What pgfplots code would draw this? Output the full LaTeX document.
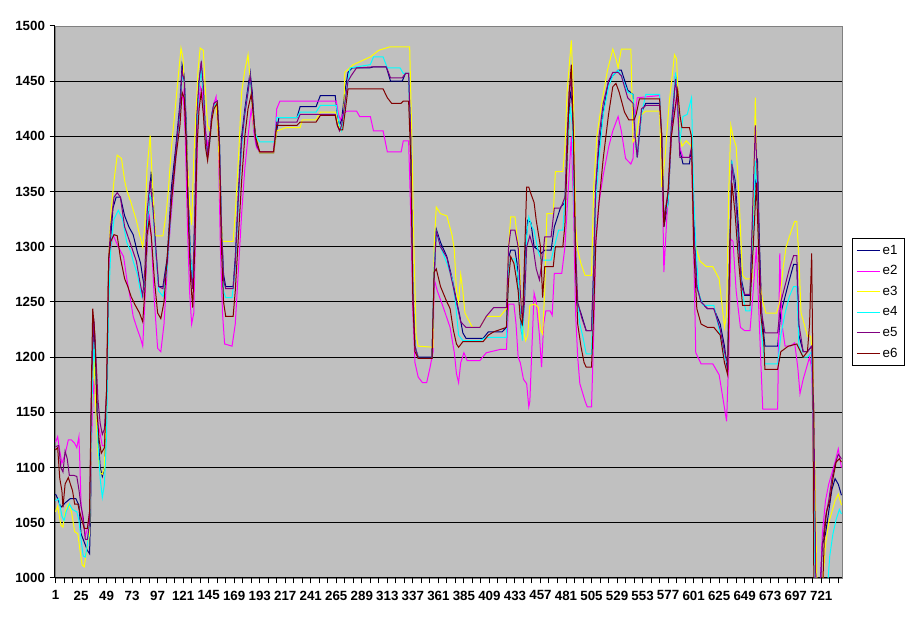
\documentclass[border=0pt]{standalone}
\usepackage{pgfplots}
\pgfplotsset{compat=1.18}
\usepackage{fontspec}
\setmainfont{Liberation Sans}
\definecolor{plotgray}{RGB}{192,192,192}
\definecolor{cE1}{RGB}{0,0,128}
\definecolor{cE2}{RGB}{255,0,255}
\definecolor{cE3}{RGB}{255,255,0}
\definecolor{cE4}{RGB}{0,255,255}
\definecolor{cE5}{RGB}{128,0,128}
\definecolor{cE6}{RGB}{128,0,0}
\begin{document}
\begin{tikzpicture}
\begin{axis}[
scale only axis,width=590.25pt,height=414pt,
xmin=0.5,xmax=740.5,ymin=1000,ymax=1500,
axis background/.style={fill=plotgray,draw=gray},
axis x line*=bottom,axis y line*=left,
axis line style={black,line width=0.75pt,-},
xtick={1,25,...,721},minor xtick={9,17,...,737},
ytick={1000,1050,...,1500},
extra y ticks={1050,1100,...,1450},extra y tick labels={},
extra y tick style={grid=major,major tick length=0pt},
grid style={black,line width=0.75pt},
tick align=outside,major tick length=4pt,minor tick length=4pt,
tick style={black,line width=0.75pt},
tick label style={font=\fontsize{10}{12}\selectfont\bfseries},
xticklabel style={yshift=-2pt},
/pgf/number format/assume math mode=true,/pgf/number format/1000 sep={},
legend style={at={(1.0127,0.5)},anchor=west,draw=black,fill=white,
  font=\fontsize{10}{12}\selectfont,row sep=3pt,inner sep=3pt},
legend cell align=left,
every axis plot/.append style={line width=0.75pt,mark=none},
]
% e1
\addplot[cE1] coordinates {
(1,1076)(3,1072)(6,1064)(10,1068)(15,1072)(20,1072)(23,1066)(25,1040)(27,1035)(29,1030)(31,1025)(33,1022)
(34,1060)(35,1180)(37,1232)(39,1190)(41,1130)(43,1100)(45,1092)(47,1100)(49,1160)(51,1280)(53,1310)(55,1335)
(58,1345)(62,1345)(66,1328)(70,1318)(74,1311)(78,1295)(81,1285)(83,1272)(85,1262)(87,1300)(89,1345)(91,1368)
(93,1340)(95,1300)(98,1264)(102,1264)(106,1290)(110,1354)(114,1390)(118,1430)(120,1465)(122,1455)(124,1410)
(126,1340)(128,1290)(130,1265)(132,1330)(134,1420)(136,1450)(138,1465)(140,1440)(142,1400)(144,1385)(146,1400)
(148,1420)(150,1430)(153,1432)(155,1400)(157,1320)(159,1275)(161,1264)(165,1264)(168,1264)(170,1290)(173,1350)
(176,1400)(179,1425)(182,1445)(184,1458)(186,1440)(188,1410)(190,1395)(193,1385)(206,1385)(209,1405)(211,1417)
(228,1417)(231,1427)(246,1427)(250,1437)(264,1437)(266,1420)(268,1410)(270,1415)(273,1440)(276,1458)(280,1462)
(296,1462)(300,1463)(312,1463)(316,1450)(327,1450)(330,1457)(333,1457)(335,1400)(337,1260)(339,1210)(342,1200)
(355,1200)(357,1270)(359,1316)(363,1304)(369,1291)(374,1271)(378,1251)(381,1238)(384,1222)(387,1217)(403,1217)
(408,1223)(421,1223)(425,1227)(427,1290)(429,1297)(433,1297)(435,1285)(437,1250)(439,1225)(441,1240)(443,1300)
(445,1324)(448,1322)(451,1300)(455,1297)(458,1294)(461,1297)(467,1297)(470,1318)(476,1336)(480,1340)(483,1400)
(485,1440)(487,1430)(489,1340)(491,1250)(495,1240)(500,1224)(505,1224)(507,1280)(509,1354)(512,1390)(516,1422)
(521,1450)(525,1455)(530,1460)(533,1460)(539,1442)(544,1438)(546,1400)(548,1381)(552,1422)(556,1430)(569,1430)
(571,1400)(573,1318)(577,1340)(580,1400)(584,1455)(586,1440)(588,1388)(591,1375)(597,1375)(599,1388)(601,1330)
(604,1264)(608,1250)(614,1244)(620,1244)(626,1230)(630,1210)(633,1187)(635,1300)(637,1375)(640,1360)(643,1320)
(646,1270)(649,1256)(654,1256)(657,1330)(659,1358)(661,1380)(663,1300)(665,1240)(668,1210)(680,1210)(683,1240)
(687,1255)(691,1270)(695,1284)(698,1284)(700,1220)(704,1205)(708,1205)(712,1210)(714,1150)(716,990)(720,990)
(722,1030)(725,1040)(728,1060)(731,1080)(734,1090)(737,1085)(740,1075)};
\addlegendentry{e1}
% e2
\addplot[cE2] coordinates {
(1,1123)(3,1128)(5,1115)(7,1104)(10,1112)(13,1125)(16,1125)(19,1122)(21,1118)(23,1128)(24,1100)(25,1067)
(27,1050)(29,1038)(31,1045)(33,1060)(35,1130)(37,1180)(39,1160)(41,1140)(43,1130)(45,1120)(47,1120)(49,1160)
(51,1280)(53,1300)(55,1311)(60,1300)(65,1291)(68,1271)(71,1255)(74,1237)(78,1225)(81,1217)(83,1210)(85,1250)
(87,1300)(89,1330)(91,1310)(94,1250)(97,1208)(100,1205)(103,1230)(106,1280)(109,1320)(112,1355)(116,1400)
(119,1430)(121,1440)(123,1400)(125,1320)(127,1260)(129,1230)(131,1240)(133,1330)(135,1420)(137,1445)(139,1440)
(141,1410)(143,1400)(145,1385)(147,1410)(150,1430)(152,1436)(154,1400)(156,1300)(158,1240)(160,1212)(167,1210)
(170,1230)(173,1280)(176,1330)(179,1371)(182,1400)(185,1425)(188,1400)(190,1390)(193,1386)(206,1386)(208,1410)
(209,1425)(212,1432)(265,1432)(267,1420)(269,1415)(271,1420)(275,1423)(284,1423)(287,1418)(297,1418)(300,1405)
(309,1405)(313,1386)(326,1386)(328,1396)(333,1396)(335,1330)(337,1240)(339,1195)(342,1182)(346,1177)(350,1177)
(353,1190)(356,1205)(357,1271)(360,1260)(366,1244)(372,1227)(376,1204)(378,1185)(380,1177)(382,1195)(385,1204)
(388,1197)(400,1197)(406,1204)(419,1207)(425,1207)(427,1248)(432,1248)(434,1230)(436,1200)(438,1195)(441,1180)
(444,1176)(446,1155)(447,1160)(449,1210)(451,1258)(453,1250)(456,1220)(458,1191)(460,1230)(462,1242)(466,1242)
(468,1238)(470,1276)(477,1276)(480,1300)(483,1350)(486,1400)(488,1340)(490,1240)(492,1200)(494,1176)(499,1160)
(501,1155)(505,1155)(507,1220)(509,1304)(512,1340)(516,1365)(521,1390)(525,1405)(530,1418)(533,1405)(537,1380)
(542,1375)(544,1380)(546,1420)(548,1435)(569,1437)(571,1400)(573,1277)(576,1330)(580,1400)(585,1437)(588,1390)
(591,1381)(599,1381)(601,1300)(603,1204)(608,1194)(619,1194)(625,1184)(629,1160)(632,1142)(634,1200)(636,1307)
(638,1305)(641,1260)(645,1227)(649,1224)(654,1224)(657,1260)(660,1300)(662,1250)(664,1200)(666,1153)(680,1153)
(682,1294)(684,1230)(687,1210)(692,1210)(696,1213)(699,1190)(701,1167)(704,1180)(707,1190)(710,1200)(712,1190)
(714,1100)(716,990)(720,990)(722,1040)(725,1070)(728,1085)(731,1095)(734,1105)(737,1117)(740,1100)};
\addlegendentry{e2}
% e3
\addplot[cE3] coordinates {
(1,1060)(3,1065)(6,1048)(8,1046)(10,1060)(13,1067)(16,1060)(19,1042)(22,1040)(24,1025)(26,1012)(28,1010)
(31,1030)(33,1040)(35,1150)(37,1207)(39,1150)(41,1110)(43,1095)(45,1094)(47,1100)(49,1170)(51,1290)(53,1330)
(56,1360)(59,1383)(63,1380)(66,1360)(68,1351)(72,1340)(77,1324)(80,1311)(83,1300)(85,1320)(87,1370)(90,1401)
(92,1360)(95,1310)(102,1310)(105,1330)(107,1350)(110,1390)(113,1420)(116,1450)(119,1480)(121,1470)(123,1420)
(125,1380)(127,1340)(129,1320)(131,1380)(133,1420)(135,1460)(137,1480)(140,1478)(142,1440)(144,1410)(146,1405)
(148,1415)(150,1425)(152,1430)(154,1400)(156,1340)(158,1305)(168,1305)(170,1330)(173,1380)(176,1440)(179,1460)
(182,1474)(185,1440)(187,1410)(190,1398)(193,1385)(206,1385)(209,1405)(218,1408)(231,1408)(233,1415)(246,1415)
(250,1422)(264,1422)(267,1410)(270,1405)(272,1420)(273,1458)(281,1465)(297,1472)(305,1478)(315,1481)(334,1481)
(336,1400)(338,1300)(340,1220)(342,1210)(356,1209)(357,1300)(359,1336)(363,1330)(369,1328)(374,1310)(376,1297)
(378,1260)(380,1250)(382,1275)(384,1260)(386,1240)(393,1227)(400,1227)(406,1237)(419,1237)(425,1244)(427,1300)
(429,1327)(433,1327)(435,1310)(437,1297)(439,1240)(441,1224)(443,1215)(445,1220)(447,1247)(452,1248)(455,1245)
(457,1225)(459,1221)(461,1260)(463,1330)(469,1330)(471,1368)(478,1368)(480,1390)(482,1440)(486,1487)(488,1440)
(490,1320)(492,1297)(495,1285)(499,1274)(505,1274)(507,1354)(510,1400)(513,1420)(516,1438)(520,1460)(525,1479)
(528,1470)(530,1462)(533,1479)(542,1479)(544,1395)(547,1400)(550,1418)(556,1423)(569,1423)(571,1354)(574,1380)
(578,1430)(583,1474)(585,1470)(588,1400)(590,1391)(594,1396)(599,1391)(601,1304)(603,1300)(607,1287)(613,1282)
(619,1282)(625,1271)(630,1227)(632,1240)(634,1350)(636,1410)(638,1400)(641,1391)(644,1338)(647,1274)(650,1271)
(656,1271)(659,1435)(661,1340)(663,1271)(666,1250)(669,1240)(679,1240)(682,1250)(685,1280)(688,1300)(693,1315)
(696,1323)(698,1323)(700,1290)(702,1240)(705,1230)(708,1219)(711,1219)(713,1200)(715,1100)(717,990)(722,990)
(725,1030)(728,1050)(731,1060)(734,1070)(737,1076)(740,1066)};
\addlegendentry{e3}
% e4
\addplot[cE4] coordinates {
(1,1070)(4,1072)(7,1056)(9,1052)(11,1060)(14,1067)(17,1062)(21,1060)(23,1052)(25,1035)(27,1020)(29,1019)
(31,1030)(33,1050)(35,1150)(37,1214)(39,1180)(41,1120)(43,1090)(45,1073)(47,1085)(49,1130)(51,1250)(53,1300)
(56,1325)(60,1333)(64,1325)(68,1304)(72,1295)(74,1287)(78,1275)(80,1264)(82,1255)(85,1265)(87,1310)(89,1348)
(92,1340)(95,1300)(98,1260)(102,1255)(106,1280)(110,1340)(114,1380)(118,1420)(120,1455)(122,1450)(124,1400)
(126,1330)(128,1290)(130,1270)(132,1320)(134,1410)(136,1445)(138,1460)(140,1440)(142,1400)(144,1383)(146,1395)
(148,1420)(150,1428)(153,1430)(155,1400)(157,1320)(159,1260)(161,1254)(167,1254)(170,1280)(173,1340)(176,1390)
(179,1420)(182,1440)(184,1453)(186,1430)(188,1405)(190,1400)(193,1395)(207,1395)(209,1417)(228,1417)(231,1422)
(246,1422)(250,1428)(265,1428)(268,1410)(270,1405)(273,1430)(278,1462)(297,1465)(300,1472)(309,1472)(313,1462)
(325,1462)(328,1457)(333,1457)(335,1390)(337,1260)(339,1210)(342,1199)(355,1199)(357,1280)(359,1314)(363,1300)
(369,1285)(374,1271)(377,1250)(380,1220)(384,1215)(400,1215)(406,1218)(419,1218)(425,1218)(427,1280)(429,1289)
(433,1289)(436,1272)(438,1240)(440,1215)(442,1250)(444,1310)(446,1327)(449,1318)(451,1315)(455,1295)(458,1288)
(467,1288)(470,1300)(474,1315)(478,1315)(481,1360)(483,1400)(485,1427)(487,1410)(489,1320)(491,1260)(494,1230)
(497,1218)(500,1203)(505,1203)(507,1280)(509,1340)(512,1380)(516,1420)(521,1445)(525,1455)(530,1460)(533,1455)
(539,1440)(544,1438)(546,1400)(548,1381)(552,1420)(556,1438)(569,1438)(571,1400)(573,1325)(577,1340)(580,1410)
(584,1458)(586,1430)(588,1395)(591,1418)(595,1420)(599,1435)(601,1350)(603,1301)(606,1257)(610,1247)(620,1247)
(626,1220)(630,1200)(633,1194)(635,1300)(637,1378)(640,1350)(643,1300)(647,1257)(650,1242)(654,1242)(657,1310)
(659,1378)(661,1340)(663,1280)(665,1220)(668,1194)(680,1194)(683,1220)(687,1240)(691,1255)(695,1264)(698,1264)
(700,1210)(704,1200)(708,1200)(712,1205)(714,1116)(715,1000)(717,980)(726,980)(729,1020)(732,1040)(735,1053)
(738,1062)(740,1058)};
\addlegendentry{e4}
% e5
\addplot[cE5] coordinates {
(1,1119)(4,1120)(6,1100)(8,1096)(10,1115)(12,1108)(14,1093)(18,1093)(21,1092)(23,1080)(25,1065)(27,1055)
(29,1035)(31,1035)(33,1050)(35,1180)(37,1235)(39,1200)(41,1160)(43,1140)(45,1130)(47,1135)(49,1170)(51,1290)
(53,1320)(56,1345)(59,1349)(62,1345)(66,1318)(71,1304)(77,1287)(80,1270)(83,1255)(85,1280)(87,1330)(90,1360)
(93,1330)(96,1290)(98,1264)(102,1262)(106,1285)(110,1345)(114,1385)(118,1425)(120,1460)(122,1450)(124,1400)
(126,1330)(128,1280)(130,1262)(132,1330)(134,1420)(136,1450)(138,1468)(140,1445)(142,1405)(144,1382)(146,1400)
(148,1420)(150,1430)(153,1432)(155,1400)(157,1320)(159,1270)(161,1262)(168,1262)(170,1285)(173,1345)(176,1395)
(179,1420)(182,1440)(184,1455)(186,1435)(188,1405)(190,1392)(193,1386)(206,1386)(209,1413)(228,1413)(231,1420)
(264,1420)(266,1410)(268,1405)(270,1410)(273,1430)(276,1450)(279,1455)(284,1462)(300,1463)(312,1463)(316,1453)
(327,1453)(330,1457)(333,1457)(335,1400)(337,1260)(339,1210)(342,1199)(355,1199)(357,1275)(359,1314)(363,1300)
(369,1290)(374,1268)(378,1250)(382,1232)(387,1227)(400,1227)(406,1237)(413,1245)(425,1245)(427,1300)(429,1315)
(433,1315)(436,1300)(438,1260)(440,1230)(442,1250)(444,1300)(447,1310)(450,1300)(453,1280)(456,1270)(459,1290)
(461,1309)(467,1309)(470,1335)(476,1335)(480,1345)(482,1400)(484,1440)(486,1452)(488,1400)(490,1300)(492,1250)
(496,1235)(500,1224)(505,1224)(507,1280)(509,1354)(512,1400)(516,1430)(521,1450)(525,1458)(530,1458)(533,1455)
(539,1435)(544,1430)(546,1400)(548,1381)(552,1425)(556,1428)(569,1428)(571,1400)(573,1325)(577,1350)(580,1410)
(584,1452)(586,1430)(588,1381)(597,1381)(599,1390)(601,1320)(604,1264)(608,1250)(614,1244)(620,1244)(626,1225)
(630,1205)(633,1194)(635,1300)(637,1375)(640,1350)(643,1310)(646,1264)(649,1257)(654,1257)(657,1350)(659,1410)
(661,1360)(663,1290)(665,1240)(668,1222)(680,1222)(683,1250)(687,1265)(691,1280)(695,1292)(698,1292)(700,1230)
(704,1205)(708,1205)(712,1210)(714,1150)(716,990)(720,990)(722,1030)(725,1055)(728,1070)(731,1090)(734,1103)
(737,1112)(740,1108)};
\addlegendentry{e5}
% e6
\addplot[cE6] coordinates {
(1,1116)(3,1118)(5,1090)(7,1079)(8,1064)(10,1085)(13,1091)(15,1085)(17,1079)(19,1067)(22,1067)(25,1055)
(28,1045)(31,1045)(33,1060)(35,1190)(36,1244)(38,1220)(40,1150)(42,1125)(44,1113)(47,1118)(49,1170)(51,1290)
(53,1305)(56,1311)(59,1310)(62,1290)(66,1271)(69,1264)(72,1255)(76,1247)(80,1240)(83,1232)(85,1260)(87,1310)
(89,1324)(91,1310)(94,1270)(97,1240)(100,1235)(103,1250)(106,1290)(110,1340)(114,1380)(118,1410)(120,1440)
(122,1435)(124,1390)(126,1320)(128,1270)(130,1245)(132,1300)(134,1390)(136,1425)(138,1440)(140,1420)(142,1390)
(144,1378)(146,1395)(148,1415)(150,1425)(153,1430)(155,1390)(157,1300)(159,1250)(161,1237)(168,1237)(170,1260)
(173,1310)(176,1360)(179,1400)(182,1425)(185,1438)(187,1420)(189,1400)(193,1386)(206,1386)(209,1410)(228,1410)
(231,1413)(246,1413)(250,1419)(264,1419)(266,1410)(268,1406)(271,1406)(273,1420)(276,1443)(309,1443)(313,1435)
(317,1430)(326,1430)(328,1432)(333,1432)(335,1380)(337,1250)(339,1205)(342,1199)(355,1199)(357,1277)(359,1280)
(363,1264)(369,1250)(372,1244)(375,1225)(378,1212)(380,1209)(384,1214)(403,1214)(408,1220)(413,1223)(425,1227)
(427,1270)(429,1291)(432,1285)(434,1273)(436,1260)(438,1235)(440,1230)(442,1290)(444,1354)(446,1354)(448,1348)
(451,1340)(453,1324)(455,1312)(457,1300)(459,1254)(461,1282)(469,1282)(471,1300)(478,1300)(480,1320)(482,1380)
(484,1440)(486,1465)(488,1400)(490,1280)(492,1230)(495,1210)(498,1195)(500,1191)(505,1191)(507,1240)(509,1304)
(512,1340)(516,1380)(521,1420)(525,1445)(528,1448)(531,1440)(536,1422)(540,1415)(545,1415)(547,1420)(550,1434)
(569,1434)(571,1400)(573,1318)(577,1350)(580,1400)(586,1442)(588,1420)(590,1408)(597,1408)(599,1400)(601,1300)
(604,1244)(608,1230)(614,1227)(620,1227)(626,1220)(630,1195)(633,1184)(635,1300)(637,1358)(640,1330)(643,1290)
(647,1247)(654,1247)(657,1300)(660,1358)(662,1300)(664,1240)(667,1214)(668,1189)(680,1189)(683,1205)(690,1210)
(698,1212)(704,1200)(708,1205)(710,1230)(712,1294)(713,1200)(714,1000)(716,980)(722,980)(724,1040)(726,1060)
(729,1070)(732,1090)(735,1105)(738,1108)(740,1105)};
\addlegendentry{e6}
\end{axis}
\pgfresetboundingbox
\path[use as bounding box] (-41.25pt,-33.75pt) rectangle (642pt,433.5pt);
\end{tikzpicture}
\end{document}
